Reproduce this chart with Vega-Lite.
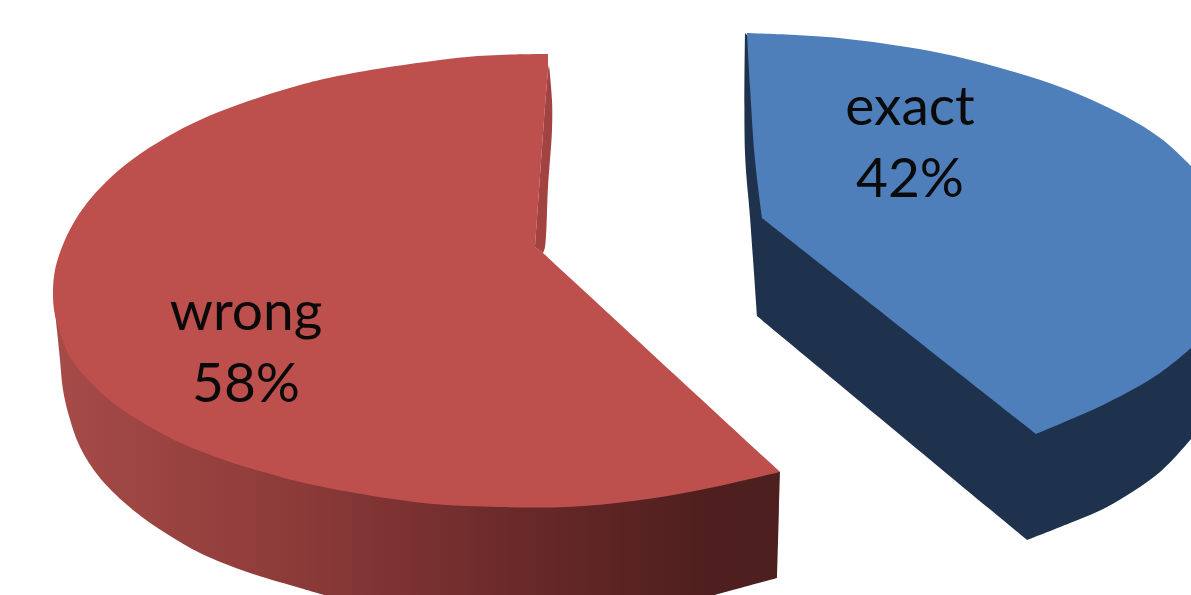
{
  "$schema": "https://vega.github.io/schema/vega-lite/v6.json",
  "width": 1191,
  "height": 595,
  "padding": 0,
  "autosize": {"type": "none"},
  "background": "white",
  "view": {"stroke": null},
  "datasets": {
    "outlines": [
      {"part":"wrong-side","seq":0,"x":5.4,"y":30},{"part":"wrong-side","seq":1,"x":5.7,"y":33},{"part":"wrong-side","seq":2,"x":6,"y":36},{"part":"wrong-side","seq":3,"x":6.3,"y":39},{"part":"wrong-side","seq":4,"x":6.9,"y":41.6},{"part":"wrong-side","seq":5,"x":8,"y":44.7},{"part":"wrong-side","seq":6,"x":10,"y":47.8},{"part":"wrong-side","seq":7,"x":13.3,"y":51},{"part":"wrong-side","seq":8,"x":16.7,"y":53.4},{"part":"wrong-side","seq":9,"x":20,"y":55.3},{"part":"wrong-side","seq":10,"x":25,"y":57.3},{"part":"wrong-side","seq":11,"x":30,"y":58.8},{"part":"wrong-side","seq":12,"x":32.4,"y":59.5},{"part":"wrong-side","seq":13,"x":32.4,"y":59.5},{"part":"wrong-side","seq":14,"x":71.5,"y":59.5},{"part":"wrong-side","seq":15,"x":71.5,"y":59.5},{"part":"wrong-side","seq":16,"x":77.7,"y":57.8},{"part":"wrong-side","seq":17,"x":77.7,"y":57.8},{"part":"wrong-side","seq":18,"x":78,"y":47.2},{"part":"wrong-side","seq":19,"x":78,"y":47.2},{"part":"wrong-side","seq":20,"x":30,"y":40},{"part":"wrong-side","seq":21,"x":30,"y":40},

      {"part":"wrong-top","seq":0,"x":54.8,"y":5.4},{"part":"wrong-top","seq":1,"x":54.8,"y":5.4},{"part":"wrong-top","seq":2,"x":51.3,"y":5.45},{"part":"wrong-top","seq":3,"x":46.7,"y":5.7},{"part":"wrong-top","seq":4,"x":43.3,"y":6.1},{"part":"wrong-top","seq":5,"x":38.3,"y":6.8},{"part":"wrong-top","seq":6,"x":33.3,"y":7.7},{"part":"wrong-top","seq":7,"x":30,"y":8.5},{"part":"wrong-top","seq":8,"x":24,"y":10.4},{"part":"wrong-top","seq":9,"x":20,"y":12},{"part":"wrong-top","seq":10,"x":16.7,"y":13.7},{"part":"wrong-top","seq":11,"x":13.3,"y":15.9},{"part":"wrong-top","seq":12,"x":10.7,"y":18.1},{"part":"wrong-top","seq":13,"x":8.7,"y":20.3},{"part":"wrong-top","seq":14,"x":7.3,"y":22.4},{"part":"wrong-top","seq":15,"x":6.2,"y":24.7},{"part":"wrong-top","seq":16,"x":5.5,"y":27},{"part":"wrong-top","seq":17,"x":5.3,"y":29},{"part":"wrong-top","seq":18,"x":5.4,"y":31},{"part":"wrong-top","seq":19,"x":5.9,"y":33},{"part":"wrong-top","seq":20,"x":7,"y":35.7},{"part":"wrong-top","seq":21,"x":9,"y":38.2},{"part":"wrong-top","seq":22,"x":11.7,"y":40.6},{"part":"wrong-top","seq":23,"x":15,"y":42.7},{"part":"wrong-top","seq":24,"x":18.3,"y":44.4},{"part":"wrong-top","seq":25,"x":23.3,"y":46.3},{"part":"wrong-top","seq":26,"x":26.7,"y":47.3},{"part":"wrong-top","seq":27,"x":30,"y":48.2},{"part":"wrong-top","seq":28,"x":36.7,"y":49.5},{"part":"wrong-top","seq":29,"x":43.3,"y":50.4},{"part":"wrong-top","seq":30,"x":50,"y":50.7},{"part":"wrong-top","seq":31,"x":56.7,"y":50.7},{"part":"wrong-top","seq":32,"x":63.3,"y":50.1},{"part":"wrong-top","seq":33,"x":70,"y":49},{"part":"wrong-top","seq":34,"x":78,"y":47.2},{"part":"wrong-top","seq":35,"x":78,"y":47.2},{"part":"wrong-top","seq":36,"x":54.3,"y":25.3},{"part":"wrong-top","seq":37,"x":54.3,"y":25.3},{"part":"wrong-top","seq":38,"x":53.5,"y":24.7},{"part":"wrong-top","seq":39,"x":53.5,"y":24.7},{"part":"wrong-top","seq":40,"x":53.9,"y":19},{"part":"wrong-top","seq":41,"x":54.4,"y":12},{"part":"wrong-top","seq":42,"x":54.8,"y":7},{"part":"wrong-top","seq":43,"x":54.8,"y":7},

      {"part":"wrong-inner","seq":0,"x":54.9,"y":6.5},{"part":"wrong-inner","seq":1,"x":54.9,"y":6.5},{"part":"wrong-inner","seq":2,"x":55.2,"y":10},{"part":"wrong-inner","seq":3,"x":55.2,"y":13},{"part":"wrong-inner","seq":4,"x":54.8,"y":18.7},{"part":"wrong-inner","seq":5,"x":54.5,"y":24.7},{"part":"wrong-inner","seq":6,"x":54.3,"y":25.3},{"part":"wrong-inner","seq":7,"x":54.3,"y":25.3},{"part":"wrong-inner","seq":8,"x":53.5,"y":24.7},{"part":"wrong-inner","seq":9,"x":53.5,"y":24.7},{"part":"wrong-inner","seq":10,"x":53.9,"y":19},{"part":"wrong-inner","seq":11,"x":54.4,"y":12},{"part":"wrong-inner","seq":12,"x":54.8,"y":7},{"part":"wrong-inner","seq":13,"x":54.8,"y":7},

      {"part":"exact-side","seq":0,"x":74.5,"y":3.3},{"part":"exact-side","seq":1,"x":74.5,"y":3.3},{"part":"exact-side","seq":2,"x":74.5,"y":15.3},{"part":"exact-side","seq":3,"x":75,"y":21.7},{"part":"exact-side","seq":4,"x":75.7,"y":31.6},{"part":"exact-side","seq":5,"x":75.7,"y":31.6},{"part":"exact-side","seq":6,"x":102.7,"y":54},{"part":"exact-side","seq":7,"x":102.7,"y":54},{"part":"exact-side","seq":8,"x":107,"y":52.3},{"part":"exact-side","seq":9,"x":110.7,"y":50.7},{"part":"exact-side","seq":10,"x":116,"y":47.2},{"part":"exact-side","seq":11,"x":119.1,"y":43.9},{"part":"exact-side","seq":12,"x":119.1,"y":43.9},{"part":"exact-side","seq":13,"x":119.1,"y":30},{"part":"exact-side","seq":14,"x":119.1,"y":30},{"part":"exact-side","seq":15,"x":90,"y":20},{"part":"exact-side","seq":16,"x":90,"y":20},

      {"part":"exact-top","seq":0,"x":74.7,"y":3.3},{"part":"exact-top","seq":1,"x":74.7,"y":3.3},{"part":"exact-top","seq":2,"x":82.7,"y":3.7},{"part":"exact-top","seq":3,"x":88,"y":4.3},{"part":"exact-top","seq":4,"x":94,"y":5.3},{"part":"exact-top","seq":5,"x":99.7,"y":6.7},{"part":"exact-top","seq":6,"x":106.3,"y":8.8},{"part":"exact-top","seq":7,"x":112.3,"y":11.5},{"part":"exact-top","seq":8,"x":116.3,"y":14},{"part":"exact-top","seq":9,"x":119.1,"y":16.6},{"part":"exact-top","seq":10,"x":119.1,"y":16.6},{"part":"exact-top","seq":11,"x":119.1,"y":34.8},{"part":"exact-top","seq":12,"x":119.1,"y":34.8},{"part":"exact-top","seq":13,"x":116,"y":37.3},{"part":"exact-top","seq":14,"x":110.7,"y":40.3},{"part":"exact-top","seq":15,"x":103.6,"y":43.4},{"part":"exact-top","seq":16,"x":103.6,"y":43.4},{"part":"exact-top","seq":17,"x":76.2,"y":21.8},{"part":"exact-top","seq":18,"x":76.2,"y":21.8},{"part":"exact-top","seq":19,"x":75.5,"y":16},{"part":"exact-top","seq":20,"x":75,"y":8.7},{"part":"exact-top","seq":21,"x":74.7,"y":3.3}
    ],
    "labels": [
      {"label":"wrong\n58%","x":24.6,"y":33},
      {"label":"exact\n42%","x":91,"y":12.5}
    ]
  },
  "encoding": {
    "x": {"field":"x","type":"quantitative","axis":null,"scale":{"domain":[0,119.1],"nice":false,"zero":false}},
    "y": {"field":"y","type":"quantitative","axis":null,"scale":{"domain":[0,59.5],"reverse":true,"nice":false,"zero":false}}
  },
  "layer": [
    {
      "data": {"name":"outlines"},
      "transform": [{"filter":"datum.part === 'wrong-side'"}],
      "mark": {"type":"line","interpolate":"catmull-rom","filled":true,"strokeWidth":0,"fill":{"gradient":"linear","x1":0,"x2":1,"y1":0,"y2":0,"stops":[
        {"offset":0,"color":"#a64b48"},
        {"offset":0.33,"color":"#8c3b39"},
        {"offset":0.62,"color":"#6c2a2a"},
        {"offset":0.9,"color":"#4e1f1e"},
        {"offset":1,"color":"#4d1f1e"}
      ]}},
      "encoding": {"order":{"field":"seq","type":"quantitative"}}
    },
    {
      "data": {"name":"outlines"},
      "transform": [{"filter":"datum.part === 'wrong-top'"}],
      "mark": {"type":"line","interpolate":"catmull-rom","filled":true,"strokeWidth":0,"fill":"#bd4f4c"},
      "encoding": {"order":{"field":"seq","type":"quantitative"}}
    },
    {
      "data": {"name":"outlines"},
      "transform": [{"filter":"datum.part === 'wrong-inner'"}],
      "mark": {"type":"line","interpolate":"catmull-rom","filled":true,"strokeWidth":0,"fill":"#a34341"},
      "encoding": {"order":{"field":"seq","type":"quantitative"}}
    },
    {
      "data": {"name":"outlines"},
      "transform": [{"filter":"datum.part === 'exact-side'"}],
      "mark": {"type":"line","interpolate":"catmull-rom","filled":true,"strokeWidth":0,"fill":"#1f324d"},
      "encoding": {"order":{"field":"seq","type":"quantitative"}}
    },
    {
      "data": {"name":"outlines"},
      "transform": [{"filter":"datum.part === 'exact-top'"}],
      "mark": {"type":"line","interpolate":"catmull-rom","filled":true,"strokeWidth":0,"fill":"#4e7fbb"},
      "encoding": {"order":{"field":"seq","type":"quantitative"}}
    },
    {
      "data": {"name":"labels"},
      "mark": {"type":"text","font":"Lato","fontSize":55,"align":"center","baseline":"alphabetic","lineBreak":"\n","lineHeight":72,"color":"#0a0a0a"},
      "encoding": {"text":{"field":"label","type":"nominal"}}
    }
  ]
}
